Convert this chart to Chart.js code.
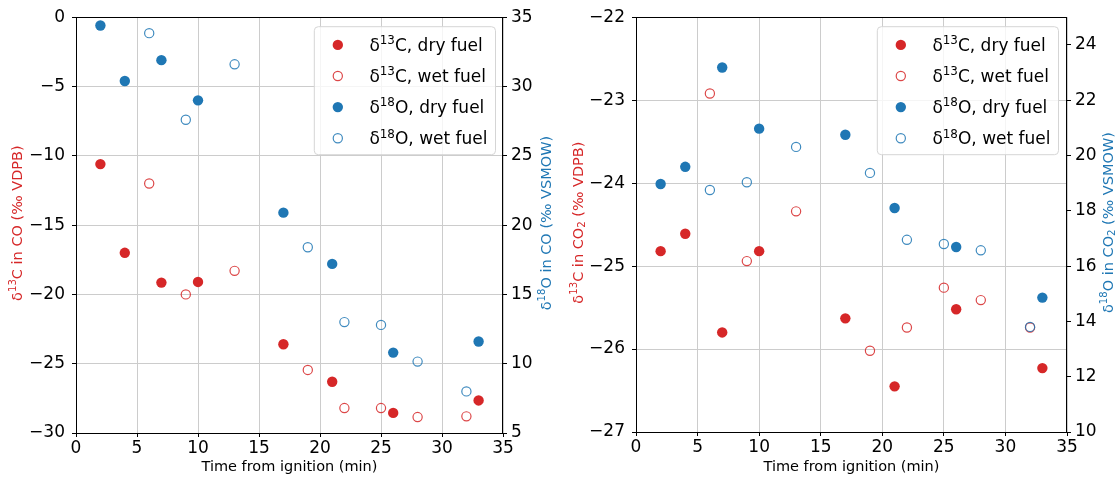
<!DOCTYPE html>
<html>
<head>
<meta charset="utf-8">
<script src="https://cdn.jsdelivr.net/npm/chart.js@4"></script>
<style>
  html, body { margin: 0; padding: 0; background: #fff; }
  #wrap { position: relative; width: 1119px; height: 480px; }
  canvas { position: absolute; top: 0; }
</style>
</head>
<body>
<div id="wrap">
  <canvas id="co" width="560" height="480" style="left:0"></canvas>
  <canvas id="co2" width="559" height="480" style="left:560px"></canvas>
</div>
<script>
// sampling times (min after ignition)
const dryTime = [2, 4, 7, 10, 17, 21, 26, 33];
const wetTime = [6, 9, 13, 19, 22, 25, 28, 32];

// isotopes in CO
const d13C_CO_dry = [-10.6, -17.0, -19.15, -19.1, -23.6, -26.3, -28.55, -27.65];
const d13C_CO_wet = [-12.0, -20.0, -18.3, -25.45, -28.2, -28.2, -28.85, -28.8];
const d18O_CO_dry = [34.4, 30.4, 31.9, 29.0, 20.9, 17.2, 10.8, 11.6];
const d18O_CO_wet = [33.85, 27.6, 31.6, 18.4, 13.0, 12.8, 10.15, 8.0];

// isotopes in CO2
const d13C_CO2_dry = [-24.82, -24.61, -25.8, -24.82, -25.63, -26.45, -25.52, -26.23];
const d13C_CO2_wet = [-22.92, -24.94, -24.34, -26.02, -25.74, -25.26, -25.41, -25.74];
const d18O_CO2_dry = [18.97, 19.59, 23.18, 20.97, 20.75, 18.1, 16.69, 14.86];
const d18O_CO2_wet = [18.75, 19.03, 20.31, 19.37, 16.95, 16.8, 16.57, 13.8];

// tick values
const timeTicks = [0, 5, 10, 15, 20, 25, 30, 35];
const coCTicks = [-30, -25, -20, -15, -10, -5, 0];
const coOTicks = [5, 10, 15, 20, 25, 30, 35];
const co2CTicks = [-27, -26, -25, -24, -23, -22];
const co2OTicks = [10, 12, 14, 16, 18, 20, 22, 24];

// legend text, ^{..} superscript, _{..} subscript
const seriesNames = ['δ^{13}C, dry fuel', 'δ^{13}C, wet fuel', 'δ^{18}O, dry fuel', 'δ^{18}O, wet fuel'];

const RED = '#d62728';
const BLUE = '#1f77b4';
const FONT = '"DejaVu Sans", sans-serif';

function parseRich(str) {
    return str.split(/(\^\{[^}]*\}|_\{[^}]*\})/).filter(s => s).map(s => {
        if (s[0] === '^') return { t: s.slice(2, -1), k: 'sup' };
        if (s[0] === '_') return { t: s.slice(2, -1), k: 'sub' };
        return { t: s, k: '' };
    });
}

function richWidth(ctx, parts, size) {
    let w = 0;
    for (const p of parts) {
        ctx.font = (p.k ? size * 0.7 : size) + 'px ' + FONT;
        w += ctx.measureText(p.t).width;
    }
    return w;
}

// draws text with sup/sub parts, x is the left edge, y the vertical centre
function drawRich(ctx, str, x, y, size, color) {
    const parts = parseRich(str);
    const base = y + size * 0.36;
    ctx.fillStyle = color;
    ctx.textBaseline = 'alphabetic';
    ctx.textAlign = 'left';
    for (const p of parts) {
        let dy = 0, s = size;
        if (p.k === 'sup') { s = size * 0.7; dy = -size * 0.4; }
        if (p.k === 'sub') { s = size * 0.7; dy = size * 0.17; }
        ctx.font = s + 'px ' + FONT;
        ctx.fillText(p.t, x, base + dy);
        x += ctx.measureText(p.t).width;
    }
}

const minusFmt = v => (v < 0 ? '\u2212' + Math.abs(v) : String(v));

// frame, axis titles and the legend box
const decorPlugin = {
    id: 'decor',
    afterDatasetsDraw(chart, args, opts) {
        const ctx = chart.ctx;
        const ca = chart.chartArea;
        ctx.save();
        ctx.strokeStyle = '#000';
        ctx.lineWidth = 1;
        ctx.strokeRect(Math.round(ca.left) + 0.5, Math.round(ca.top) + 0.5,
            Math.round(ca.right - ca.left) - 1, Math.round(ca.bottom - ca.top));

        // side titles, both read bottom to top
        const midY = (ca.top + ca.bottom) / 2 - 2;
        for (const t of opts.titles) {
            const sc = chart.scales[t.scale];
            const x = t.side === 'left' ? sc.left + t.dist : sc.right - t.dist;
            const parts = parseRich(t.text);
            const w = richWidth(ctx, parts, 14.5);
            ctx.save();
            ctx.translate(x, midY);
            ctx.rotate(-Math.PI / 2);
            drawRich(ctx, t.text, -w / 2, 0, 14.5, t.color);
            ctx.restore();
        }

        // legend
        const size = 17;
        let tw = 0;
        for (const n of seriesNames) tw = Math.max(tw, richWidth(ctx, parseRich(n), size));
        const w = 55.6 + tw + 7.5, h = 128;
        const lx = ca.right - opts.legendInset - w, ly = ca.top + 9;
        ctx.beginPath();
        ctx.roundRect(lx + 0.5, ly + 0.5, w, h, 4);
        ctx.fillStyle = 'rgba(255,255,255,0.8)';
        ctx.fill();
        ctx.strokeStyle = '#d5d5d5';
        ctx.stroke();
        chart.data.datasets.forEach((ds, i) => {
            const cy = ly + 18.7 + i * 31.1;
            ctx.beginPath();
            ctx.arc(lx + 24, cy, ds.pointRadius, 0, Math.PI * 2);
            if (ds.borderWidth === 0) {
                ctx.fillStyle = ds.backgroundColor;
                ctx.fill();
            } else {
                ctx.lineWidth = ds.borderWidth;
                ctx.strokeStyle = ds.borderColor;
                ctx.stroke();
            }
            drawRich(ctx, seriesNames[i], lx + 55.6, cy, size, '#000');
        });
        ctx.restore();
    }
};

function pts(xs, ys) {
    return xs.map((x, i) => ({ x: x, y: ys[i] }));
}

function filled(color, data, axis, order) {
    return { data: data, yAxisID: axis, order: order, pointRadius: 5.2, pointHoverRadius: 5.2,
        backgroundColor: color, borderColor: color, borderWidth: 0, showLine: false };
}
function hollow(color, data, axis, order) {
    return { data: data, yAxisID: axis, order: order, pointRadius: 4.6, pointHoverRadius: 4.6,
        backgroundColor: 'rgba(0,0,0,0)', borderColor: color, borderWidth: 1.2, showLine: false };
}

function setTicks(list) {
    return scale => { scale.ticks = list.map(v => ({ value: v })); };
}

function makeChart(id, cfg) {
    const tickFont = { family: FONT, size: 17 };
    return new Chart(document.getElementById(id), {
        type: 'scatter',
        data: {
            datasets: [
                filled(RED, pts(dryTime, cfg.cDry), 'yL', 4),
                hollow('rgba(214,39,40,0.85)', pts(wetTime, cfg.cWet), 'yL', 3),
                filled(BLUE, pts(dryTime, cfg.oDry), 'yR', 2),
                hollow('rgba(31,119,180,0.85)', pts(wetTime, cfg.oWet), 'yR', 1)
            ]
        },
        options: {
            responsive: false,
            animation: false,
            layout: { padding: { top: 15, left: 0, right: 0, bottom: 0 } },
            plugins: {
                legend: { display: false },
                tooltip: { enabled: false },
                decor: { titles: cfg.titles, legendInset: cfg.legendInset }
            },
            scales: {
                x: {
                    type: 'linear', min: 0, max: 35,
                    afterBuildTicks: setTicks(timeTicks),
                    afterFit: s => { s.height = cfg.xHeight; },
                    ticks: { font: tickFont, color: '#000', padding: 1, maxRotation: 0 },
                    grid: { color: '#cccccc', lineWidth: 1, tickColor: '#000', tickLength: 4 },
                    border: { display: false },
                    title: { display: true, text: 'Time from ignition (min)', color: '#000',
                        font: { family: FONT, size: 14.5 }, padding: { top: 0, bottom: 4 } }
                },
                yL: {
                    type: 'linear', position: 'left', min: cfg.cMin, max: cfg.cMax,
                    afterBuildTicks: setTicks(cfg.cTicks),
                    afterFit: s => { s.width = cfg.leftW; },
                    ticks: { font: tickFont, color: '#000', padding: 7, callback: minusFmt },
                    grid: { color: '#cccccc', lineWidth: 1, tickColor: '#000', tickLength: 4 },
                    border: { display: false }
                },
                yR: {
                    type: 'linear', position: 'right', min: cfg.oMin, max: cfg.oMax,
                    afterBuildTicks: setTicks(cfg.oTicks),
                    afterFit: s => { s.width = cfg.rightW; },
                    ticks: { font: tickFont, color: '#000', padding: 4, callback: minusFmt },
                    grid: { drawOnChartArea: false, tickColor: '#000', tickLength: 4 },
                    border: { display: false }
                }
            }
        },
        plugins: [decorPlugin]
    });
}

makeChart('co', {
    cDry: d13C_CO_dry, cWet: d13C_CO_wet, oDry: d18O_CO_dry, oWet: d18O_CO_wet,
    cMin: -30, cMax: 0, cTicks: coCTicks,
    oMin: 5, oMax: 35, oTicks: coOTicks,
    leftW: 76, rightW: 57, xHeight: 47, legendInset: 8,
    titles: [
        { scale: 'yL', side: 'left', dist: 16.7, color: RED, text: 'δ^{13}C in CO (‰ VDPB)' },
        { scale: 'yR', side: 'right', dist: 14.5, color: BLUE, text: 'δ^{18}O in CO (‰ VSMOW)' }
    ]
});

makeChart('co2', {
    cDry: d13C_CO2_dry, cWet: d13C_CO2_wet, oDry: d18O_CO2_dry, oWet: d18O_CO2_wet,
    cMin: -27, cMax: -22, cTicks: co2CTicks,
    oMin: 10, oMax: 25, oTicks: co2OTicks,
    leftW: 76, rightW: 52, xHeight: 48, legendInset: 9,
    titles: [
        { scale: 'yL', side: 'left', dist: 17.5, color: RED, text: 'δ^{13}C in CO_{2} (‰ VDPB)' },
        { scale: 'yR', side: 'right', dist: 11.5, color: BLUE, text: 'δ^{18}O in CO_{2} (‰ VSMOW)' }
    ]
});
</script>
</body>
</html>
